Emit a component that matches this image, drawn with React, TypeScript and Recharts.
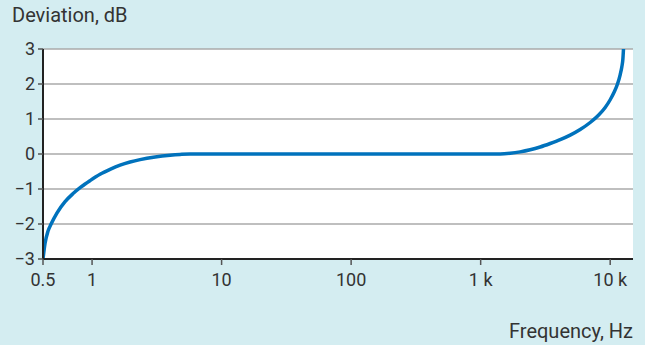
import React from 'react';
import { LineChart, Line, XAxis, YAxis, CartesianGrid } from 'recharts';

const freqHz = [
  0.418, 0.4336, 0.4573, 0.4826, 0.5367, 0.6187, 0.7134, 0.8225, 0.9651, 1.153, 1.377, 1.645, 1.965, 2.348, 3.065, 4.003, 4.78, 5.711,
  10, 100, 1000,
  1414, 1690, 2018, 2411, 2880, 3441, 4111, 4911, 5866, 7008, 8077, 9150, 10000, 10737, 11387, 11950, 12311, 12535, 12667,
];
const deviationDb = [
  -3.0, -2.55, -2.2, -2.0, -1.68, -1.36, -1.13, -0.94, -0.76, -0.58, -0.44, -0.32, -0.23, -0.16, -0.085, -0.035, -0.013, 0,
  0, 0, 0,
  0, 0.02, 0.06, 0.12, 0.2, 0.3, 0.41, 0.54, 0.7, 0.9, 1.1, 1.33, 1.55, 1.77, 2.0, 2.27, 2.5, 2.72, 3.0,
];

const xTickValues = [0.418, 1, 10, 100, 1000, 10000];
const xTickLabels = ['0.5', '1', '10', '100', '1 k', '10 k'];
const yTickValues = [-3, -2, -1, 0, 1, 2, 3];

const data = freqHz.map((f, i) => ({ f, d: deviationDb[i] }));

const FONT = 'Roboto, "Noto Sans", sans-serif';
const TEXT = '#333';

export default function App() {
  return (
    <div style={{ position: 'absolute', left: 0, top: 0, width: 645, height: 345, background: '#d4edf1', fontFamily: FONT }}>
      <div style={{ position: 'absolute', left: 12, top: 5, fontSize: 20, lineHeight: '20px', color: TEXT }}>Deviation, dB</div>
      <div style={{ position: 'absolute', right: 12, top: 321, fontSize: 20, lineHeight: '20px', color: TEXT }}>Frequency, Hz</div>
      <LineChart width={645} height={345} data={data} margin={{ top: 49, right: 12, bottom: 0, left: 0 }}>
        <CartesianGrid vertical={false} stroke="#aaa" strokeWidth={1.5} fill="#fff" />
        <XAxis
          dataKey="f"
          type="number"
          scale="log"
          domain={[0.418, 15000]}
          ticks={xTickValues}
          allowDataOverflow
          interval={0}
          tickFormatter={(v: number) => xTickLabels[xTickValues.indexOf(v)] ?? ''}
          height={86}
          axisLine={{ stroke: '#222', strokeWidth: 2 }}
          tickLine={{ stroke: '#555', strokeWidth: 1.5 }}
          tickSize={6}
          tickMargin={8}
          tick={{ fontSize: 18, fill: TEXT, fontFamily: FONT }}
        />
        <YAxis
          type="number"
          domain={[-3, 3]}
          ticks={yTickValues}
          interval={0}
          width={43}
          tickFormatter={(v: number) => (v < 0 ? '\u2212' + Math.abs(v) : String(v))}
          axisLine={{ stroke: '#222', strokeWidth: 2 }}
          tickLine={{ stroke: '#555', strokeWidth: 1.5 }}
          tickSize={5}
          tickMargin={3}
          tick={{ fontSize: 18, fill: TEXT, fontFamily: FONT }}
        />
        <Line type="monotone" dataKey="d" stroke="#0072bc" strokeWidth={3.5} dot={false} isAnimationActive={false} />
      </LineChart>
    </div>
  );
}
